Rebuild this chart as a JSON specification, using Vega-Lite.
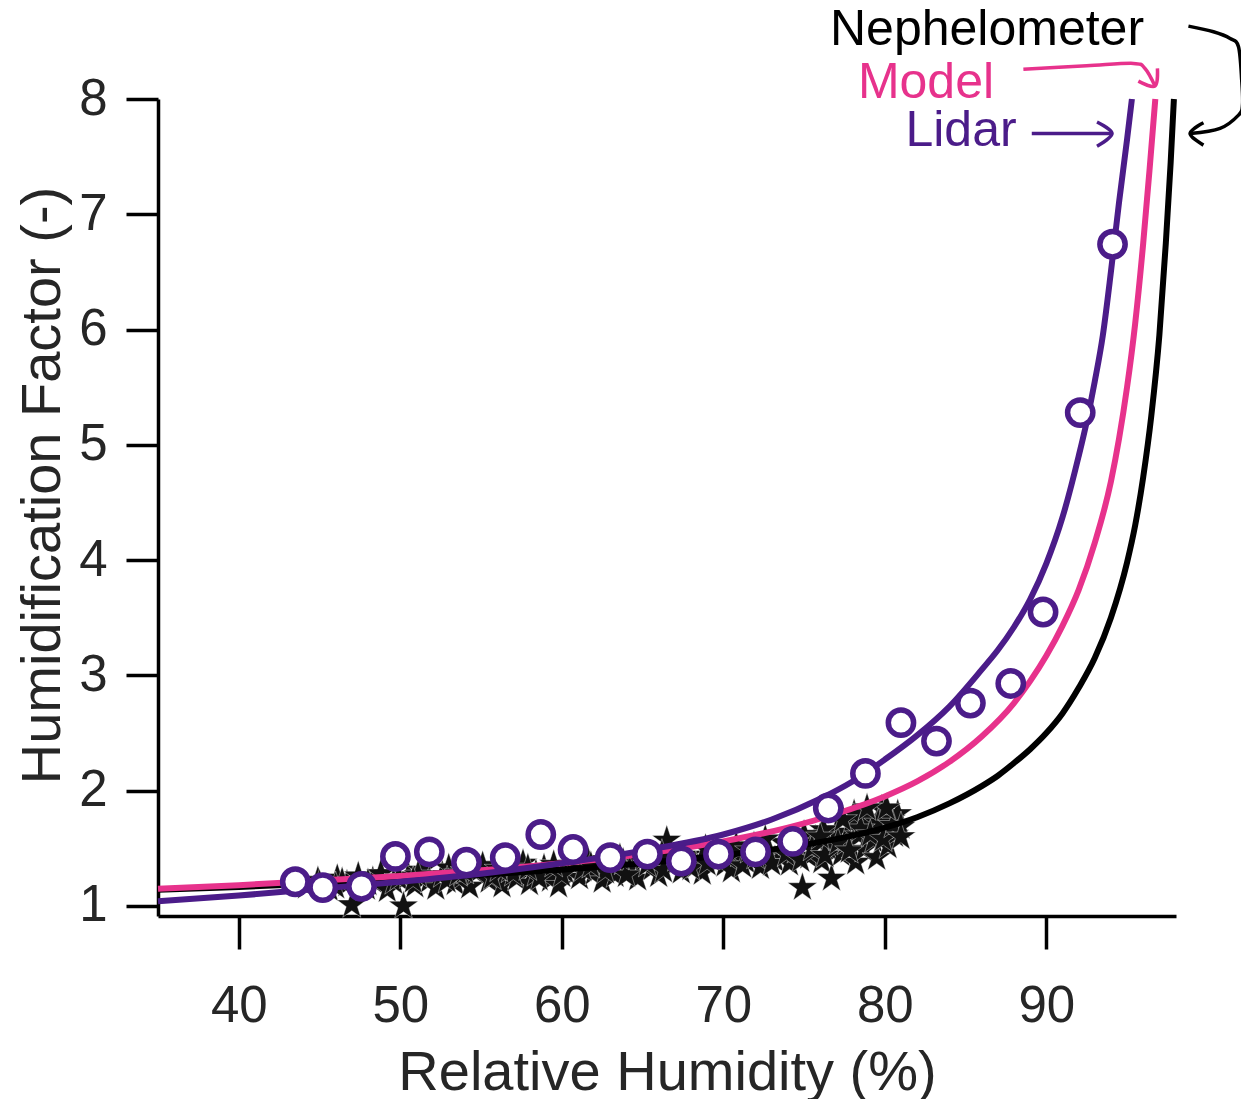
{
  "$schema": "https://vega.github.io/schema/vega-lite/v6.json",
  "width": 1018,
  "height": 817,
  "autosize": {"type": "none"},
  "padding": {"left": 158, "top": 99, "right": 65, "bottom": 183},
  "background": "white",
  "config": {
    "view": {"stroke": null},
    "font": "Liberation Sans"
  },
  "datasets": {
    "stars": [
      {"rh":44.2,"f":1.17},{"rh":44.9,"f":1.22},{"rh":45.6,"f":1.15},{"rh":46.1,"f":1.24},{"rh":46.7,"f":1.19},
      {"rh":47.0,"f":1.01},{"rh":47.4,"f":1.26},{"rh":47.9,"f":1.16},{"rh":48.3,"f":1.22},{"rh":48.8,"f":1.28},
      {"rh":49.2,"f":1.14},{"rh":49.6,"f":1.21},{"rh":50.2,"f":1.00},{"rh":50.5,"f":1.26},{"rh":50.9,"f":1.18},
      {"rh":51.3,"f":1.31},{"rh":51.8,"f":1.22},{"rh":52.2,"f":1.16},{"rh":52.6,"f":1.27},{"rh":53.0,"f":1.33},
      {"rh":53.4,"f":1.20},{"rh":53.8,"f":1.25},{"rh":54.3,"f":1.17},{"rh":54.7,"f":1.29},{"rh":55.1,"f":1.35},
      {"rh":55.5,"f":1.22},{"rh":55.9,"f":1.27},{"rh":56.3,"f":1.18},{"rh":56.8,"f":1.31},{"rh":57.2,"f":1.24},
      {"rh":57.6,"f":1.37},{"rh":58.0,"f":1.20},{"rh":58.4,"f":1.28},{"rh":58.9,"f":1.33},{"rh":59.3,"f":1.23},
      {"rh":59.8,"f":1.18},{"rh":60.2,"f":1.30},{"rh":60.7,"f":1.36},{"rh":61.1,"f":1.25},{"rh":61.6,"f":1.40},
      {"rh":62.0,"f":1.29},{"rh":62.5,"f":1.22},{"rh":62.9,"f":1.34},{"rh":63.3,"f":1.27},{"rh":63.8,"f":1.38},
      {"rh":64.2,"f":1.31},{"rh":64.7,"f":1.24},{"rh":65.1,"f":1.42},{"rh":65.6,"f":1.33},{"rh":66.0,"f":1.27},
      {"rh":66.5,"f":1.57},{"rh":66.9,"f":1.36},{"rh":67.4,"f":1.30},{"rh":67.8,"f":1.44},{"rh":68.3,"f":1.35},
      {"rh":68.7,"f":1.29},{"rh":69.2,"f":1.41},{"rh":69.6,"f":1.48},{"rh":70.1,"f":1.36},{"rh":70.5,"f":1.31},
      {"rh":71.0,"f":1.45},{"rh":71.4,"f":1.39},{"rh":71.9,"f":1.52},{"rh":72.3,"f":1.34},{"rh":72.8,"f":1.46},
      {"rh":73.2,"f":1.40},{"rh":73.7,"f":1.55},{"rh":74.1,"f":1.37},{"rh":74.5,"f":1.48},{"rh":74.9,"f":1.16},
      {"rh":75.3,"f":1.43},{"rh":75.7,"f":1.58},{"rh":76.1,"f":1.39},{"rh":76.5,"f":1.50},{"rh":76.7,"f":1.24},
      {"rh":77.0,"f":1.64},{"rh":77.3,"f":1.45},{"rh":77.6,"f":1.55},{"rh":77.9,"f":1.71},{"rh":78.2,"f":1.38},
      {"rh":78.4,"f":1.61},{"rh":78.7,"f":1.49},{"rh":79.0,"f":1.76},{"rh":79.3,"f":1.57},{"rh":79.5,"f":1.42},
      {"rh":79.8,"f":1.84},{"rh":80.0,"f":1.66},{"rh":80.2,"f":1.52},{"rh":80.4,"f":1.75},{"rh":80.6,"f":1.62},
      {"rh":80.8,"f":1.80},{"rh":81.0,"f":1.69},{"rh":78.1,"f":1.80},{"rh":79.6,"f":1.72},{"rh":76.2,"f":1.66},
      {"rh":75.0,"f":1.62},{"rh":72.6,"f":1.58},{"rh":70.8,"f":1.52},{"rh":68.9,"f":1.50},
      {"rh":45.0,"f":1.19},{"rh":46.4,"f":1.21},{"rh":48.0,"f":1.20},{"rh":49.9,"f":1.24},{"rh":51.1,"f":1.27},
      {"rh":52.9,"f":1.22},{"rh":54.0,"f":1.30},{"rh":55.7,"f":1.25},{"rh":57.0,"f":1.28},{"rh":58.6,"f":1.24},
      {"rh":60.0,"f":1.27},{"rh":61.3,"f":1.32},{"rh":62.7,"f":1.30},{"rh":64.0,"f":1.27},{"rh":65.3,"f":1.36},
      {"rh":66.3,"f":1.31},{"rh":67.1,"f":1.41},{"rh":68.0,"f":1.33},{"rh":69.0,"f":1.37},{"rh":70.3,"f":1.42},
      {"rh":71.2,"f":1.35},{"rh":72.0,"f":1.43},{"rh":73.0,"f":1.37},{"rh":73.9,"f":1.45},{"rh":74.8,"f":1.40},
      {"rh":75.5,"f":1.50},{"rh":76.3,"f":1.44},{"rh":77.1,"f":1.55},{"rh":77.8,"f":1.48},{"rh":78.5,"f":1.67},
      {"rh":79.1,"f":1.62},{"rh":79.9,"f":1.58},{"rh":80.5,"f":1.70},{"rh":81.0,"f":1.60},{"rh":80.1,"f":1.85},
      {"rh":78.9,"f":1.85},{"rh":77.4,"f":1.75},{"rh":76.0,"f":1.60},{"rh":74.4,"f":1.55},{"rh":71.6,"f":1.48},
      {"rh":66.2,"f":1.45},{"rh":63.6,"f":1.42},{"rh":61.8,"f":1.35},{"rh":59.5,"f":1.36},{"rh":57.9,"f":1.33},
      {"rh":56.1,"f":1.32},{"rh":53.6,"f":1.28},{"rh":50.8,"f":1.22},{"rh":46.0,"f":1.17}
    ],
    "curves": [
      {"series":"Nephelometer","rh":35,"f":1.14},{"series":"Nephelometer","rh":40,"f":1.165},{"series":"Nephelometer","rh":45,"f":1.195},
      {"series":"Nephelometer","rh":50,"f":1.23},{"series":"Nephelometer","rh":55,"f":1.27},{"series":"Nephelometer","rh":60,"f":1.315},
      {"series":"Nephelometer","rh":65,"f":1.37},{"series":"Nephelometer","rh":70,"f":1.44},{"series":"Nephelometer","rh":75,"f":1.53},
      {"series":"Nephelometer","rh":78,"f":1.61},{"series":"Nephelometer","rh":80,"f":1.68},{"series":"Nephelometer","rh":82,"f":1.77},
      {"series":"Nephelometer","rh":84,"f":1.89},{"series":"Nephelometer","rh":86,"f":2.04},{"series":"Nephelometer","rh":87,"f":2.13},
      {"series":"Nephelometer","rh":88,"f":2.24},{"series":"Nephelometer","rh":89,"f":2.36},{"series":"Nephelometer","rh":90,"f":2.50},
      {"series":"Nephelometer","rh":91,"f":2.67},{"series":"Nephelometer","rh":92,"f":2.89},{"series":"Nephelometer","rh":93,"f":3.15},
      {"series":"Nephelometer","rh":94,"f":3.50},{"series":"Nephelometer","rh":95,"f":3.98},{"series":"Nephelometer","rh":95.5,"f":4.30},
      {"series":"Nephelometer","rh":96,"f":4.72},{"series":"Nephelometer","rh":96.5,"f":5.25},{"series":"Nephelometer","rh":97,"f":5.95},
      {"series":"Nephelometer","rh":97.4,"f":6.75},{"series":"Nephelometer","rh":97.7,"f":7.45},{"series":"Nephelometer","rh":97.9,"f":8.0},
      {"series":"Model","rh":35,"f":1.15},{"series":"Model","rh":40,"f":1.18},{"series":"Model","rh":45,"f":1.22},
      {"series":"Model","rh":50,"f":1.26},{"series":"Model","rh":55,"f":1.31},{"series":"Model","rh":60,"f":1.37},
      {"series":"Model","rh":65,"f":1.45},{"series":"Model","rh":70,"f":1.56},{"series":"Model","rh":74,"f":1.68},
      {"series":"Model","rh":77,"f":1.80},{"series":"Model","rh":80,"f":1.95},{"series":"Model","rh":82,"f":2.08},
      {"series":"Model","rh":84,"f":2.25},{"series":"Model","rh":86,"f":2.47},{"series":"Model","rh":88,"f":2.76},
      {"series":"Model","rh":89,"f":2.95},{"series":"Model","rh":90,"f":3.17},{"series":"Model","rh":91,"f":3.43},
      {"series":"Model","rh":92,"f":3.74},{"series":"Model","rh":93,"f":4.15},{"series":"Model","rh":94,"f":4.68},
      {"series":"Model","rh":94.5,"f":5.05},{"series":"Model","rh":95,"f":5.50},{"series":"Model","rh":95.5,"f":6.05},
      {"series":"Model","rh":96,"f":6.75},{"series":"Model","rh":96.4,"f":7.40},{"series":"Model","rh":96.75,"f":8.0},
      {"series":"Lidar","rh":35,"f":1.04},{"series":"Lidar","rh":40,"f":1.09},{"series":"Lidar","rh":45,"f":1.15},
      {"series":"Lidar","rh":50,"f":1.21},{"series":"Lidar","rh":55,"f":1.28},{"series":"Lidar","rh":60,"f":1.37},
      {"series":"Lidar","rh":65,"f":1.48},{"series":"Lidar","rh":70,"f":1.62},{"series":"Lidar","rh":73,"f":1.75},
      {"series":"Lidar","rh":76,"f":1.93},{"series":"Lidar","rh":78,"f":2.08},{"series":"Lidar","rh":80,"f":2.27},
      {"series":"Lidar","rh":82,"f":2.48},{"series":"Lidar","rh":84,"f":2.73},{"series":"Lidar","rh":86,"f":3.05},
      {"series":"Lidar","rh":87,"f":3.22},{"series":"Lidar","rh":88,"f":3.42},{"series":"Lidar","rh":89,"f":3.66},
      {"series":"Lidar","rh":90,"f":3.97},{"series":"Lidar","rh":91,"f":4.37},{"series":"Lidar","rh":92,"f":4.90},
      {"series":"Lidar","rh":92.5,"f":5.20},{"series":"Lidar","rh":93,"f":5.55},{"series":"Lidar","rh":93.5,"f":5.95},
      {"series":"Lidar","rh":94,"f":6.50},{"series":"Lidar","rh":94.5,"f":7.10},{"series":"Lidar","rh":95,"f":7.65},
      {"series":"Lidar","rh":95.3,"f":8.0}
    ],
    "circles": [
      {"rh":43.5,"f":1.21},{"rh":45.2,"f":1.16},{"rh":47.6,"f":1.17},{"rh":49.7,"f":1.43},{"rh":51.8,"f":1.47},
      {"rh":54.1,"f":1.38},{"rh":56.5,"f":1.42},{"rh":58.7,"f":1.62},{"rh":60.7,"f":1.49},{"rh":63.0,"f":1.42},
      {"rh":65.3,"f":1.45},{"rh":67.4,"f":1.39},{"rh":69.7,"f":1.45},{"rh":72.0,"f":1.47},{"rh":74.3,"f":1.56},
      {"rh":76.5,"f":1.85},{"rh":78.8,"f":2.15},{"rh":81.0,"f":2.59},{"rh":83.2,"f":2.43},{"rh":85.3,"f":2.76},
      {"rh":87.8,"f":2.93},{"rh":89.8,"f":3.55},{"rh":92.1,"f":5.28},{"rh":94.1,"f":6.74}
    ],
    "arrows": [
      {"series":"Lidar","id":"l1","o":1,"rh":89.1,"f":7.70},{"series":"Lidar","id":"l1","o":2,"rh":94.0,"f":7.70},
      {"series":"Lidar","id":"l2","o":1,"rh":93.14,"f":7.80},{"series":"Lidar","id":"l2","o":2,"rh":94.07,"f":7.70},{"series":"Lidar","id":"l2","o":3,"rh":93.14,"f":7.59},
      {"series":"Model","id":"m1","o":1,"rh":88.58,"f":8.259},{"series":"Model","id":"m1","o":2,"rh":92.5,"f":8.288},{"series":"Model","id":"m1","o":3,"rh":95.39,"f":8.309},
      {"series":"Model","id":"m1","o":4,"rh":96.11,"f":8.265},{"series":"Model","id":"m1","o":5,"rh":96.73,"f":8.112},
      {"series":"Model","id":"m2","o":1,"rh":95.70,"f":8.155},{"series":"Model","id":"m2","o":2,"rh":96.73,"f":8.112},{"series":"Model","id":"m2","o":3,"rh":96.88,"f":8.265},
      {"series":"Nephelometer","id":"n1","o":1,"rh":98.80,"f":8.632},{"series":"Nephelometer","id":"n1","o":2,"rh":100.35,"f":8.583},
      {"series":"Nephelometer","id":"n1","o":3,"rh":101.38,"f":8.525},{"series":"Nephelometer","id":"n1","o":4,"rh":101.9,"f":8.453},
      {"series":"Nephelometer","id":"n1","o":5,"rh":102.1,"f":8.16},{"series":"Nephelometer","id":"n1","o":6,"rh":102.15,"f":7.95},
      {"series":"Nephelometer","id":"n1","o":7,"rh":101.9,"f":7.86},{"series":"Nephelometer","id":"n1","o":8,"rh":100.76,"f":7.745},
      {"series":"Nephelometer","id":"n1","o":9,"rh":98.90,"f":7.70},
      {"series":"Nephelometer","id":"n2","o":1,"rh":99.73,"f":7.794},{"series":"Nephelometer","id":"n2","o":2,"rh":98.90,"f":7.70},{"series":"Nephelometer","id":"n2","o":3,"rh":99.73,"f":7.60}
    ],
    "labels": [
      {"series":"Nephelometer","rh":86.33,"f":8.467},
      {"series":"Model","rh":82.55,"f":8.008},
      {"series":"Lidar","rh":84.72,"f":7.592}
    ]
  },
  "encoding": {
    "x": {
      "field": "rh", "type": "quantitative",
      "scale": {"domain": [35, 98.03], "nice": false, "zero": false},
      "axis": {
        "values": [40, 50, 60, 70, 80, 90],
        "title": "Relative Humidity (%)",
        "grid": false,
        "tickSize": 33, "tickWidth": 3.5, "tickColor": "black",
        "domainColor": "black", "domainWidth": 3.5,
        "labelFontSize": 51, "labelColor": "#262626", "labelPadding": 32,
        "titleFontSize": 56, "titleFontWeight": "normal", "titleColor": "#262626",
        "titleY": 173, "titleBaseline": "alphabetic"
      }
    },
    "y": {
      "field": "f", "type": "quantitative",
      "scale": {"domain": [0.913, 8], "nice": false, "zero": false},
      "axis": {
        "values": [1, 2, 3, 4, 5, 6, 7, 8],
        "title": "Humidification Factor (-)",
        "grid": false,
        "tickSize": 32, "tickWidth": 3.5, "tickColor": "black",
        "domainColor": "black", "domainWidth": 3.5,
        "labelFontSize": 51, "labelColor": "#262626", "labelPadding": 19,
        "titleFontSize": 56, "titleFontWeight": "normal", "titleColor": "#262626",
        "titleX": -99, "titleY": 386, "titleBaseline": "alphabetic"
      }
    }
  },
  "layer": [
    {
      "data": {"name": "stars"},
      "mark": {"type": "point", "shape": "M0,-1L0.2245,-0.309L0.951,-0.309L0.363,0.118L0.588,0.809L0,0.382L-0.588,0.809L-0.363,0.118L-0.951,-0.309L-0.2245,-0.309Z", "filled": true, "fill": "#111111", "stroke": "white", "strokeWidth": 0.4, "size": 950, "opacity": 1},
      "encoding": {}
    },
    {
      "data": {"name": "curves"},
      "transform": [{"filter": "datum.series === 'Nephelometer'"}],
      "mark": {"type": "line", "color": "#000000", "strokeWidth": 6, "interpolate": "monotone"},
      "encoding": {}
    },
    {
      "data": {"name": "curves"},
      "transform": [{"filter": "datum.series === 'Model'"}],
      "mark": {"type": "line", "color": "#E7328C", "strokeWidth": 6, "interpolate": "monotone"},
      "encoding": {}
    },
    {
      "data": {"name": "curves"},
      "transform": [{"filter": "datum.series === 'Lidar'"}],
      "mark": {"type": "line", "color": "#4B1C89", "strokeWidth": 6, "interpolate": "monotone"},
      "encoding": {}
    },
    {
      "data": {"name": "circles"},
      "mark": {"type": "point", "shape": "circle", "filled": false, "fill": "white", "fillOpacity": 1, "stroke": "#4B1C89", "strokeWidth": 5.5, "size": 640, "opacity": 1},
      "encoding": {}
    },
    {
      "data": {"name": "arrows"},
      "mark": {"type": "line", "strokeWidth": 3.5, "interpolate": "cardinal"},
      "encoding": {
        "color": {"field": "series", "type": "nominal", "scale": {"domain": ["Nephelometer", "Model", "Lidar"], "range": ["#000000", "#E7328C", "#4B1C89"]}, "legend": null},
        "detail": {"field": "id", "type": "nominal"},
        "order": {"field": "o", "type": "quantitative"}
      }
    },
    {
      "data": {"name": "labels"},
      "mark": {"type": "text", "fontSize": 50, "align": "center", "baseline": "alphabetic"},
      "encoding": {
        "text": {"field": "series", "type": "nominal"},
        "color": {"field": "series", "type": "nominal", "scale": {"domain": ["Nephelometer", "Model", "Lidar"], "range": ["#000000", "#E7328C", "#4B1C89"]}, "legend": null}
      }
    }
  ]
}
